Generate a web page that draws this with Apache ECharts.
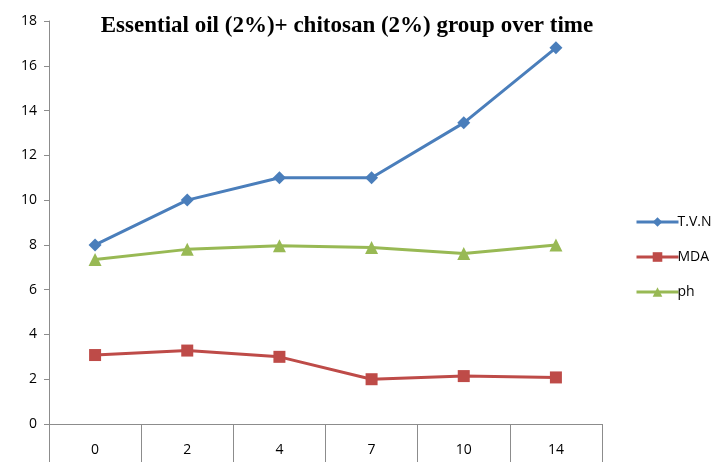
<!DOCTYPE html>
<html>
<head>
<meta charset="utf-8">
<script src="https://cdn.jsdelivr.net/npm/echarts@6/dist/echarts.min.js"></script>
<style>
  html, body { margin: 0; padding: 0; background: #fff; }
  #chart { width: 718px; height: 465px; }
</style>
</head>
<body>
<div id="chart"></div>
<script>
// Storage days
const days = ['0', '2', '4', '7', '10', '14'];
// Measured values per day
const tvn = [8.0, 10.0, 11.0, 11.0, 13.45, 16.8];
const mda = [3.08, 3.28, 3.0, 2.0, 2.14, 2.08];
const ph = [7.35, 7.8, 7.96, 7.88, 7.62, 8.0];
const yTicks = { min: 0, max: 18, step: 2 };

const colors = { tvn: '#4a7ebb', mda: '#be4b48', ph: '#98b954' };

const chart = echarts.init(document.getElementById('chart'));
const axisGrey = '#8c8c8c';
const labelFont = '"Open Sans", "Liberation Sans", sans-serif';

function lineSeries(name, data, color, symbol, size) {
  return {
    name: name,
    type: 'line',
    data: data,
    symbol: symbol,
    symbolSize: size,
    lineStyle: { color: color, width: 3 },
    itemStyle: { color: color },
    emphasis: { disabled: true },
    animation: false
  };
}

function legendItem(name, color) {
  return { name: name, lineStyle: { color: color, width: 3 } };
}

chart.setOption({
  backgroundColor: '#fff',
  title: {
    text: 'Essential oil (2%)+ chitosan (2%) group over time',
    left: 342,
    textAlign: 'center',
    top: 10,
    textStyle: {
      fontFamily: '"Liberation Serif", "Times New Roman", serif',
      fontWeight: 'bold',
      fontSize: 23,
      color: '#000'
    }
  },
  legend: {
    orient: 'vertical',
    left: 630,
    top: 210,
    itemGap: 21,
    itemWidth: 42,
    itemHeight: 12,
    lineStyle: { width: 3 },
    textStyle: { fontFamily: labelFont, fontSize: 14, color: '#000', padding: [0, 0, 0, -6] },
    data: [
      legendItem('T.V.N', colors.tvn),
      legendItem('MDA', colors.mda),
      legendItem('ph', colors.ph)
    ]
  },
  grid: { left: 49, right: 116, top: 21, bottom: 41 },
  xAxis: {
    type: 'category',
    data: days,
    boundaryGap: true,
    axisLine: { lineStyle: { color: axisGrey, width: 1 } },
    axisTick: { show: true, interval: 0, length: 38, lineStyle: { color: axisGrey } },
    axisLabel: { margin: 19, fontFamily: labelFont, fontSize: 14, color: '#000' },
    splitLine: { show: false }
  },
  yAxis: {
    type: 'value',
    min: yTicks.min,
    max: yTicks.max,
    interval: yTicks.step,
    axisLine: { show: true, lineStyle: { color: axisGrey, width: 1 } },
    axisTick: { show: true, length: 5, lineStyle: { color: axisGrey } },
    axisLabel: { margin: 12, fontFamily: labelFont, fontSize: 14, color: '#000' },
    splitLine: { show: false }
  },
  series: [
    lineSeries('T.V.N', tvn, colors.tvn, 'diamond', 13),
    lineSeries('MDA', mda, colors.mda, 'rect', 12),
    lineSeries('ph', ph, colors.ph, 'triangle', 13)
  ]
});
</script>
</body>
</html>
